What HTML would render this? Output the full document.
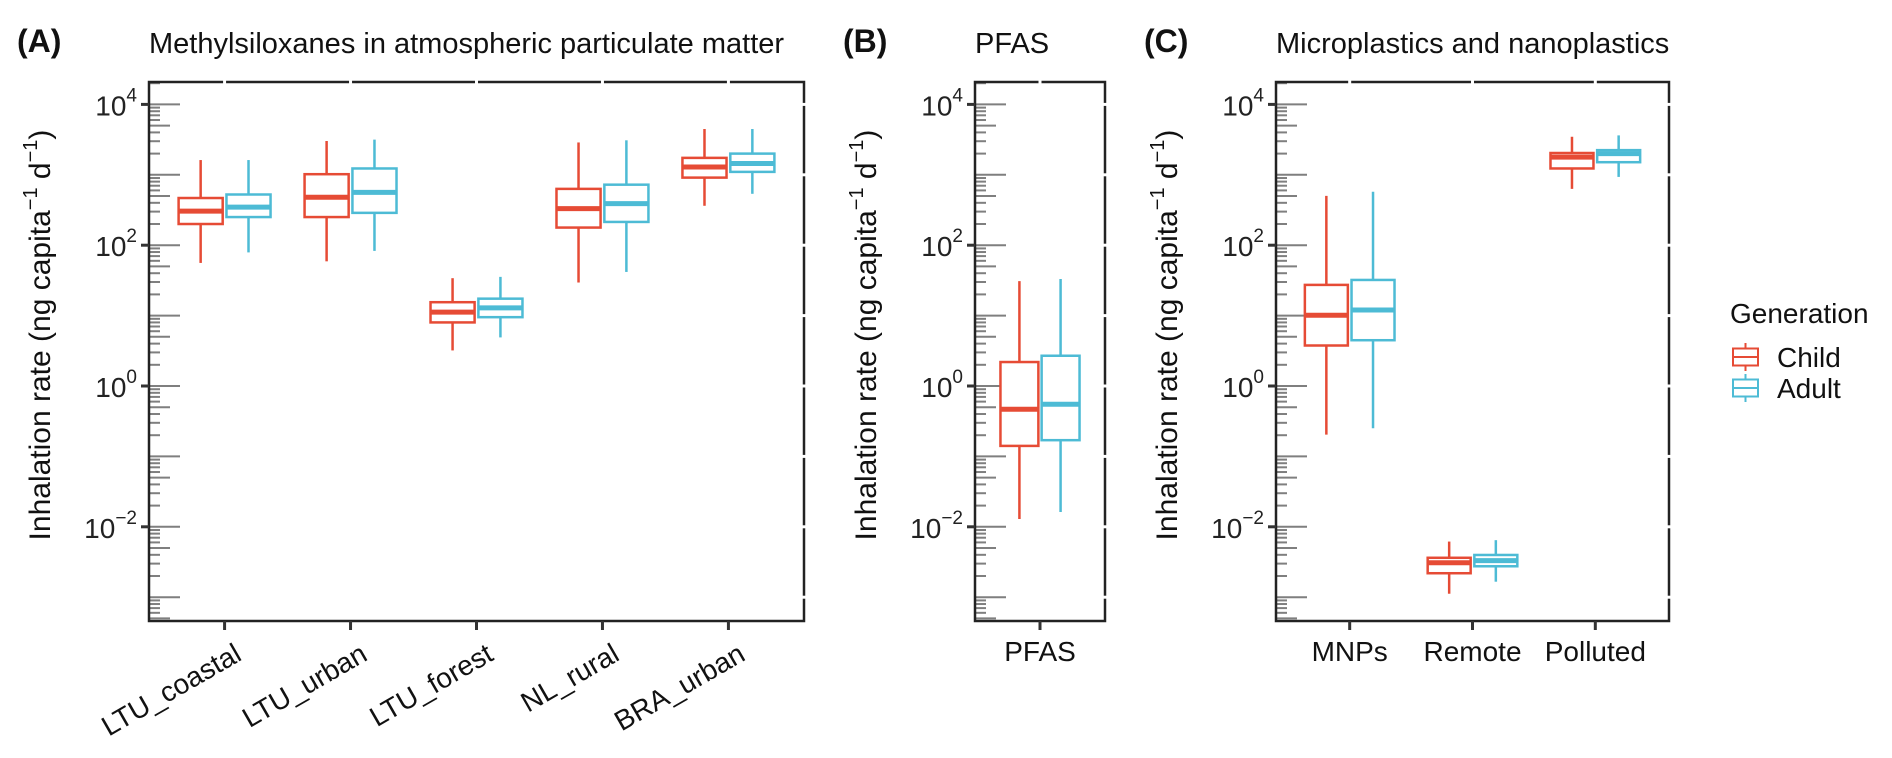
<!DOCTYPE html>
<html><head><meta charset="utf-8">
<style>
html,body{margin:0;padding:0;background:#fff;}
svg{display:block;font-family:"Liberation Sans",Arial,sans-serif;}
</style></head>
<body>
<svg id="chart" width="1892" height="758" viewBox="0 0 1892 758" xmlns="http://www.w3.org/2000/svg"></svg>
<script>
// ---- data ----
const catsA = ["LTU_coastal","LTU_urban","LTU_forest","NL_rural","BRA_urban"];
const catsB = ["PFAS"];
const catsC = ["MNPs","Remote","Polluted"];
// [lower whisker, Q1, median, Q3, upper whisker]
const childA = [[56,200,305,468,1620],[59,251,479,1020,3020],[3.2,8.0,11.2,15.5,34],[29.5,178,331,631,2880],[363,912,1290,1740,4470]];
const adultA = [[79,251,347,525,1620],[83,288,562,1230,3160],[4.9,9.5,12.9,17.4,35.5],[41.7,214,389,724,3090],[537,1100,1450,2000,4470]];
const childB = [[0.0129,0.141,0.468,2.19,30.9]];
const adultB = [[0.0162,0.170,0.550,2.69,33.1]];
const childC = [[0.204,3.76,10.1,27.3,501],[0.00112,0.00219,0.00309,0.00363,0.00617],[631,1230,1780,2040,3470]];
const adultC = [[0.251,4.47,12.0,32.1,575],[0.00166,0.00275,0.00331,0.00398,0.00646],[933,1510,2000,2240,3630]];
const yTickExps = [-2,0,2,4];
const groups = ["Child","Adult"];

const RED = "#E64B35", BLUE = "#4DBBD5";
const svg = document.getElementById("chart");
const NS = "http://www.w3.org/2000/svg";
function mk(tag, attrs, parent){
  const e = document.createElementNS(NS, tag);
  for (const k in attrs) e.setAttribute(k, attrs[k]);
  (parent||svg).appendChild(e);
  return e;
}
const TOP = 82, BOT = 621;
function yScale(v){ return 386 - Math.log10(v) * 70.4; }
const LMIN = (386 - BOT)/70.4, LMAX = (386 - TOP)/70.4;

function panel(key, left, right, cats, child, adult, title, tag, rotate){
  const g = mk("g", {});
  
  
  const unit = (right-left)/(cats.length+0.2);
  const xScale = i => left + (i+0.6)*unit;

  const t1 = mk("text", {x:left-132, y:52, "font-size":32, "font-weight":"bold", fill:"#111"}, g);
  t1.textContent = tag;
  
  
  const t2 = mk("text", {x:left, y:53, "font-size":29, fill:"#111"}, g);
  t2.textContent = title;
  
  

  for (let d=-4; d<=4; d++){
    for (let m=1; m<=9; m++){
      const lv = Math.log10(m) + d;
      if (lv < LMIN || lv > LMAX) continue;
      const y = yScale(m*Math.pow(10,d));
      const len = m===1 ? 31 : (m===5 ? 21 : 11);
      const tk = mk("line", {x1:left, x2:left+len, y1:y, y2:y, stroke:"#7f7f7f", "stroke-width":2}, g);
      
      
    }
  }
  const fr = mk("rect", {x:left, y:TOP, width:right-left, height:BOT-TOP, fill:"none", stroke:"#222", "stroke-width":2.5}, g);
  
  
  for (let d=-3; d<=4; d++){
    const y = yScale(Math.pow(10,d));
    const gp = mk("rect", {x:right-2, y:y-1.5, width:4, height:3, fill:"#fff"}, g);
    
    
  }
  cats.forEach((c,i)=>{
    const gp = mk("rect", {x:xScale(i)-1.5, y:TOP-2, width:3, height:4, fill:"#fff"}, g);
    
    
  });
  yTickExps.forEach(e=>{
    const y = yScale(Math.pow(10,e));
    const tk = mk("line", {x1:left-8, x2:left, y1:y, y2:y, stroke:"#333", "stroke-width":3}, g);
    
    
    const lb = mk("text", {x:left-12, y:y+11, "font-size":28, fill:"#222", "text-anchor":"end"}, g);
    
    
    const base = mk("tspan", {}, lb); base.textContent = "10";
    const sup = mk("tspan", {dy:-14, "font-size":19}, lb); sup.textContent = e<0 ? "\u2212"+(-e) : String(e);
  });
  const yt = mk("text", {transform:`translate(${left-99},335) rotate(-90)`, "font-size":30, fill:"#111", "text-anchor":"middle"}, g);
  
  
  mk("tspan", {}, yt).textContent = "Inhalation rate (ng capita";
  mk("tspan", {dy:-13, "font-size":20}, yt).textContent = "\u22121";
  mk("tspan", {dy:13}, yt).textContent = " d";
  mk("tspan", {dy:-13, "font-size":20}, yt).textContent = "\u22121";
  mk("tspan", {dy:13}, yt).textContent = ")";

  cats.forEach((c,i)=>{
    const x = xScale(i);
    const tk = mk("line", {x1:x, x2:x, y1:BOT, y2:BOT+9, stroke:"#333", "stroke-width":3}, g);
    
    
    let lb;
    if (rotate){
      lb = mk("text", {transform:`translate(${x+8},${BOT+20}) rotate(-30)`, "font-size":28, fill:"#111", "text-anchor":"end", dy:"0.75em"}, g);
    } else {
      lb = mk("text", {x:x, y:BOT+40, "font-size":28, fill:"#111", "text-anchor":"middle"}, g);
    }
    lb.textContent = c;
    
    
  });

  const bw = unit*0.35, off = unit*0.19;
  [[child,RED,-off,"child"],[adult,BLUE,off,"adult"]].forEach(([data,col,dx,gname])=>{
    data.forEach((s,i)=>{
      const cx = xScale(i)+dx;
      const bg = mk("g", {}, g);
      
      
      mk("line", {x1:cx, x2:cx, y1:yScale(s[4]), y2:yScale(s[3]), stroke:col, "stroke-width":2.5}, bg);
      mk("line", {x1:cx, x2:cx, y1:yScale(s[1]), y2:yScale(s[0]), stroke:col, "stroke-width":2.5}, bg);
      mk("rect", {x:cx-bw/2, y:yScale(s[3]), width:bw, height:yScale(s[1])-yScale(s[3]), fill:"#fff", stroke:col, "stroke-width":2.5}, bg);
      mk("line", {x1:cx-bw/2, x2:cx+bw/2, y1:yScale(s[2]), y2:yScale(s[2]), stroke:col, "stroke-width":5}, bg);
    });
  });
}

panel("a", 149, 804, catsA, childA, adultA, "Methylsiloxanes in atmospheric particulate matter", "(A)", true);
panel("b", 975, 1105, catsB, childB, adultB, "PFAS", "(B)", false);
panel("c", 1276, 1669, catsC, childC, adultC, "Microplastics and nanoplastics", "(C)", false);

const lg = mk("g", {});


const lt = mk("text", {x:1730, y:323, "font-size":28, fill:"#111"}, lg);
lt.textContent = "Generation";


groups.forEach((name,i)=>{
  const col = i===0 ? RED : BLUE;
  const cy = 357 + i*31;
  const e = mk("g", {}, lg);
  
  
  mk("line", {x1:1745.5, x2:1745.5, y1:cy-14, y2:cy+14, stroke:col, "stroke-width":2}, e);
  mk("rect", {x:1733, y:cy-8.5, width:25, height:17, fill:"#fff", stroke:col, "stroke-width":2}, e);
  mk("line", {x1:1733, x2:1758, y1:cy, y2:cy, stroke:col, "stroke-width":2}, e);
  const tx = mk("text", {x:1777, y:cy+10, "font-size":28, fill:"#111"}, e);
  tx.textContent = name;
});
</script>
</body></html>
